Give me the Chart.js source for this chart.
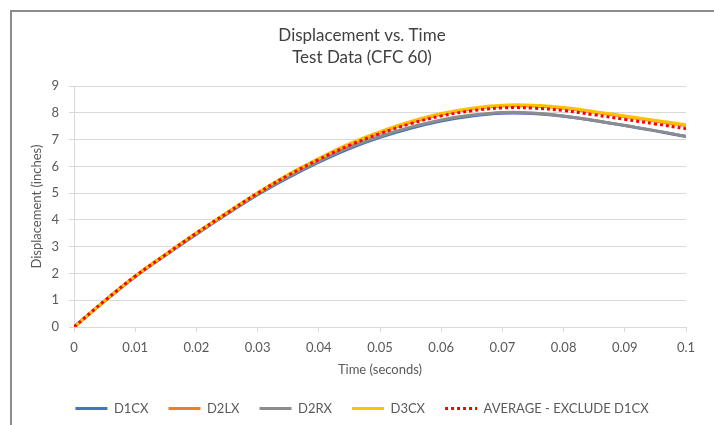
<!DOCTYPE html>
<html>
<head>
<meta charset="utf-8">
<script src="https://cdn.jsdelivr.net/npm/chart.js@4"></script>
<style>
  html, body { margin: 0; padding: 0; background: #fff; overflow: hidden; }
  #frame {
    position: absolute; left: 10px; top: 10px;
    width: 720px; height: 430px;
    border-left: 2px solid #8c8c8c; border-top: 2px solid #8c8c8c;
  }
  #chart { display: block; }
</style>
</head>
<body>
<div id="frame"><canvas id="chart" width="700" height="413"></canvas></div>
<script>
const timeS = [0, 0.005, 0.01, 0.015, 0.02, 0.025, 0.03, 0.035, 0.04, 0.045, 0.05,
               0.055, 0.06, 0.065, 0.07, 0.075, 0.08, 0.085, 0.09, 0.095, 0.1];

const d1cx = [0, 0.97, 1.88, 2.69, 3.47, 4.22, 4.94, 5.58, 6.16, 6.67, 7.09,
              7.43, 7.70, 7.89, 7.99, 7.98, 7.88, 7.72, 7.53, 7.33, 7.12];
const d2lx = [0, 0.98, 1.90, 2.72, 3.51, 4.27, 5.00, 5.68, 6.28, 6.82, 7.27,
              7.65, 7.95, 8.15, 8.26, 8.26, 8.18, 8.03, 7.87, 7.70, 7.53];
const d2rx = [0, 0.97, 1.89, 2.70, 3.49, 4.24, 4.97, 5.62, 6.20, 6.71, 7.13,
              7.47, 7.74, 7.92, 8.02, 8.00, 7.89, 7.72, 7.53, 7.34, 7.13];
const d3cx = [0, 0.98, 1.90, 2.72, 3.52, 4.28, 5.02, 5.70, 6.30, 6.85, 7.30,
              7.68, 7.98, 8.18, 8.29, 8.29, 8.20, 8.05, 7.89, 7.72, 7.56];
const avgExD1 = [0, 0.98, 1.90, 2.71, 3.51, 4.26, 5.00, 5.67, 6.26, 6.79, 7.23,
                 7.60, 7.89, 8.08, 8.19, 8.18, 8.09, 7.93, 7.76, 7.59, 7.41];

const xTickLabels = ['0', '0.01', '0.02', '0.03', '0.04', '0.05', '0.06', '0.07', '0.08', '0.09', '0.1'];
const yTickLabels = ['0', '1', '2', '3', '4', '5', '6', '7', '8', '9'];

const pts = (ys) => timeS.map((t, i) => ({ x: t, y: ys[i] }));

const line = (label, ys, color, order, extra) => Object.assign({
    label: label,
    data: pts(ys),
    borderColor: color,
    backgroundColor: color,
    borderWidth: 3,
    pointRadius: 0,
    pointBorderWidth: 3,
    tension: 0.4,
    fill: false,
    order: order
}, extra || {});

const gridColor = '#d9d9d9';
const textColor = '#595959';
const fontFam = 'Lato, "Noto Sans", sans-serif';

new Chart(document.getElementById('chart'), {
    type: 'line',
    data: {
        datasets: [
            line('D1CX', d1cx, '#4472c4', 5),
            line('D2LX', d2lx, '#ed7d31', 4),
            line('D2RX', d2rx, '#8c8c8c', 3),
            line('D3CX', d3cx, '#ffc000', 2),
            line('AVERAGE - EXCLUDE D1CX', avgExD1, '#ff0000', 1, { borderDash: [3, 3], borderCapStyle: 'butt' })
        ]
    },
    options: {
        responsive: false,
        animation: false,
        devicePixelRatio: 1,
        layout: { padding: 0 },
        scales: {
            x: {
                type: 'linear',
                min: 0,
                max: 0.1,
                afterFit: (s) => { s.height = 55; },
                ticks: {
                    stepSize: 0.01,
                    color: textColor,
                    font: { family: fontFam, size: 13 },
                    padding: 8,
                    maxRotation: 0,
                    callback: (v, i) => xTickLabels[i]
                },
                grid: { drawOnChartArea: false, drawTicks: true, tickLength: 5, color: gridColor },
                border: { display: true, color: gridColor },
                title: {
                    display: true,
                    text: 'Time (seconds)',
                    color: textColor,
                    font: { family: fontFam, size: 13 },
                    padding: { top: 0, bottom: 4 }
                }
            },
            y: {
                min: 0,
                max: 9,
                afterFit: (s) => { s.width = 62; },
                ticks: {
                    stepSize: 1,
                    color: textColor,
                    font: { family: fontFam, size: 13 },
                    padding: 10,
                    callback: (v, i) => yTickLabels[i]
                },
                grid: { color: gridColor, tickLength: 5, lineWidth: 1 },
                border: { display: true, color: gridColor },
                title: {
                    display: true,
                    text: 'Displacement (inches)',
                    color: textColor,
                    font: { family: fontFam, size: 13 },
                    padding: { top: 17, bottom: 0 }
                }
            },
            // empty spacer on the right so title/legend stay centred on the whole canvas
            spacer: {
                position: 'right',
                display: true,
                afterFit: (s) => { s.width = 26; },
                ticks: { display: false },
                grid: { display: false, drawTicks: false },
                border: { display: false }
            }
        },
        plugins: {
            title: {
                display: true,
                text: ['Displacement vs. Time', 'Test Data (CFC 60)'],
                color: '#404040',
                font: { family: fontFam, size: 17, weight: 'normal', lineHeight: 1.3 },
                padding: { top: 12, bottom: 18 }
            },
            legend: {
                position: 'bottom',
                labels: {
                    usePointStyle: true,
                    pointStyle: 'line',
                    pointStyleWidth: 32,
                    padding: 20,
                    color: textColor,
                    font: { family: fontFam, size: 13 },
                    sort: (a, b) => a.datasetIndex - b.datasetIndex,
                    generateLabels: (chart) => {
                        const items = Chart.defaults.plugins.legend.labels.generateLabels(chart);
                        items.forEach((it) => {
                            const ds = chart.data.datasets[it.datasetIndex];
                            it.lineDash = ds.borderDash || [];
                            it.lineWidth = 3;
                        });
                        return items;
                    }
                }
            },
            tooltip: { enabled: false }
        }
    }
});
</script>
</body>
</html>
